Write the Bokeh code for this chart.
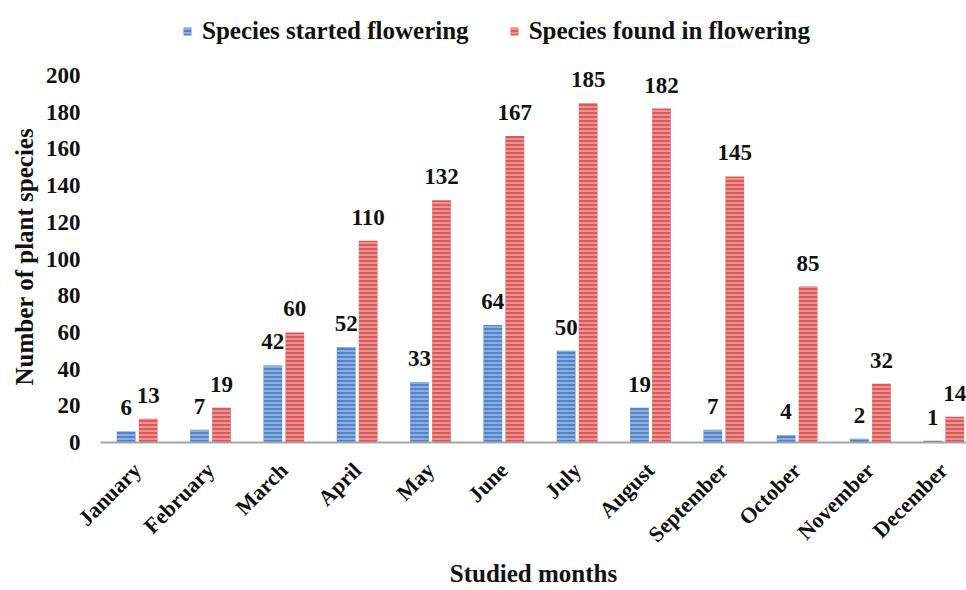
import math
from bokeh.plotting import figure
from bokeh.models import (ColumnDataSource, FixedTicker, Range1d, Legend, LegendItem,
                          LabelSet, Title)
from bokeh.transform import dodge
from bokeh.embed import file_html
from bokeh.resources import INLINE

months = ["January", "February", "March", "April", "May", "June", "July",
          "August", "September", "October", "November", "December"]
started = [6, 7, 42, 52, 33, 64, 50, 19, 7, 4, 2, 1]
found = [13, 19, 60, 110, 132, 167, 185, 182, 145, 85, 32, 14]
y_ticks = [0, 20, 40, 60, 80, 100, 120, 140, 160, 180, 200]

xpos = [i + 0.5 for i in range(len(months))]
src = ColumnDataSource(dict(x=xpos, month=months, started=started, found=found,
                            s_lbl=[str(v) for v in started],
                            f_lbl=[str(v) for v in found]))

FONT = "Liberation Serif"

# y range extends above 200 to leave room for the legend inside the frame
p = figure(width=966, height=590, output_backend="svg", toolbar_location=None,
           x_range=Range1d(0, 11.81), y_range=Range1d(0, 240.9))
p.min_border_left = 100
p.min_border_right = 0
p.min_border_top = 0
p.min_border_bottom = 148
p.outline_line_color = None
p.grid.visible = False
p.background_fill_color = "white"
p.border_fill_color = "white"

off = 0.15
w = 0.255
r1 = p.vbar(x=dodge("x", -off, range=p.x_range), top="started", width=w, source=src,
            fill_color="#5384c8", line_color=None,
            hatch_pattern="horizontal_line", hatch_scale=4, hatch_weight=1.2,
            hatch_color="#b3cbee")
r2 = p.vbar(x=dodge("x", off, range=p.x_range), top="found", width=w, source=src,
            fill_color="#da5a5a", line_color=None,
            hatch_pattern="horizontal_line", hatch_scale=4, hatch_weight=1.2,
            hatch_color="#f6b8b8")

lab_kw = dict(text_font=FONT, text_font_style="bold", text_font_size="23px",
              text_color="#111111", text_align="center", text_baseline="bottom",
              y_offset=16)
p.add_layout(LabelSet(x=dodge("x", -off, range=p.x_range), y="started", text="s_lbl",
                      source=src, **lab_kw))
p.add_layout(LabelSet(x=dodge("x", off, range=p.x_range), y="found", text="f_lbl",
                      source=src, **lab_kw))

# x axis
xa = p.xaxis[0]
xa.ticker = FixedTicker(ticks=xpos)
xa.major_label_overrides = {x: m for x, m in zip(xpos, months)}
xa.major_label_orientation = math.pi / 4
xa.major_label_text_font = FONT
xa.major_label_text_font_style = "bold"
xa.major_label_text_font_size = "22px"
xa.major_label_text_color = "#111111"
xa.major_tick_line_color = None
xa.minor_tick_line_color = None
xa.axis_line_color = "#a6a6a6"
xa.axis_line_width = 2
xa.axis_label = "Studied months"
xa.axis_label_text_font = FONT
xa.axis_label_text_font_style = "bold"
xa.axis_label_text_font_size = "25px"
xa.axis_label_text_color = "#111111"
xa.axis_label_standoff = 1
xa.major_label_standoff = 18

# y axis
ya = p.yaxis[0]
ya.ticker = FixedTicker(ticks=y_ticks)
ya.major_label_text_font = FONT
ya.major_label_text_font_style = "bold"
ya.major_label_text_font_size = "23px"
ya.major_label_text_color = "#111111"
ya.major_tick_line_color = None
ya.minor_tick_line_color = None
ya.axis_line_color = None
ya.major_label_standoff = 14

# y-axis title, placed to be centred on the 0-200 span
ytitle = Title(text="Number of plant species", align="left", offset=57,
               text_font=FONT, text_font_style="bold", text_font_size="25px",
               text_color="#111111", standoff=10)
p.add_layout(ytitle, "left")

legend = Legend(items=[LegendItem(label="Species started flowering", renderers=[r1]),
                       LegendItem(label="Species found in flowering", renderers=[r2])],
                orientation="horizontal", location=(82, 397),
                label_text_font=FONT, label_text_font_style="bold",
                label_text_font_size="25px", label_text_color="#111111",
                glyph_width=10, glyph_height=10, spacing=40, label_standoff=10,
                border_line_color=None, background_fill_alpha=0, padding=4, margin=0)
p.add_layout(legend, "center")

open("out.html", "w").write(file_html(p, INLINE))
